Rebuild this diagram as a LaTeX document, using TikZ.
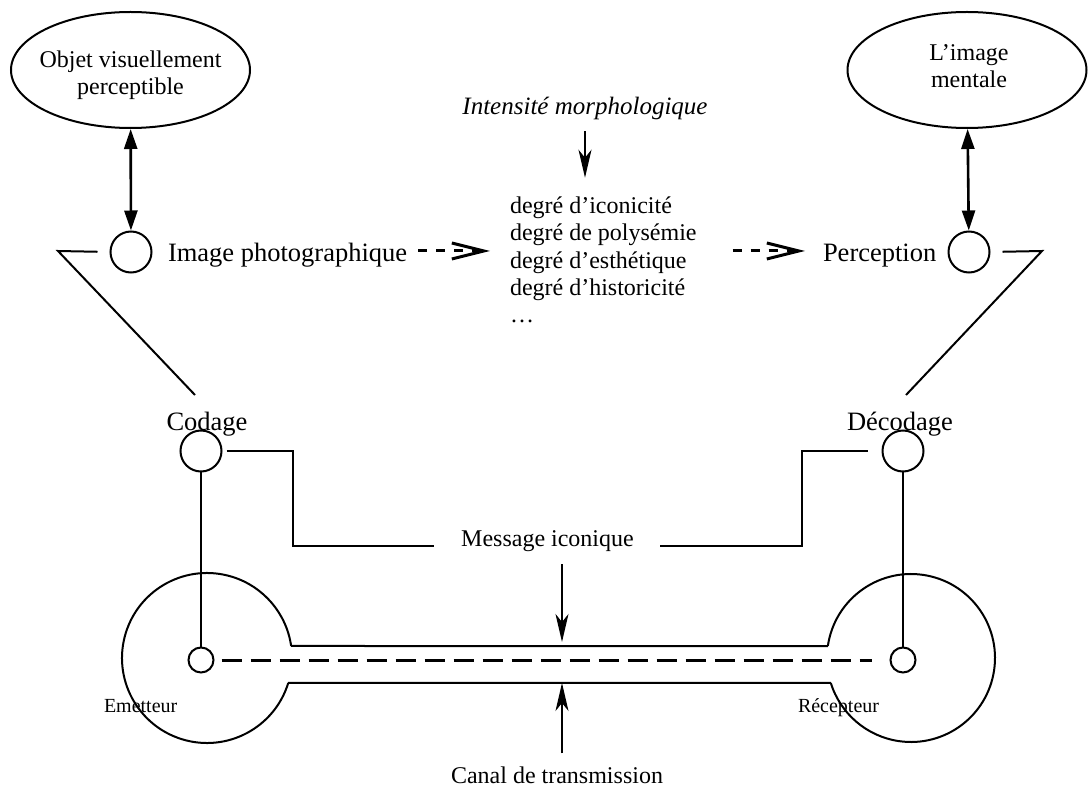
\documentclass[tikz,border=0pt]{standalone}
\usepackage{fontspec}
\setmainfont{Liberation Serif}
\usetikzlibrary{arrows.meta,shapes.geometric}

\begin{document}
\begin{tikzpicture}[x=0.5pt, y=-0.5pt, line width=1pt,
  texte/.style={inner sep=0pt, font=\fontsize{12}{13.3}\selectfont},
  grand/.style={inner sep=0pt, font=\fontsize{13.25}{15}\selectfont},
  petit/.style={inner sep=0pt, font=\fontsize{10}{12}\selectfont},
  bulle/.style={draw, ellipse, minimum width=119.5pt, minimum height=58pt, inner sep=0pt},
  rond/.style={draw, circle, fill=white, minimum size=20.5pt, inner sep=0pt},
  pastille/.style={draw, circle, minimum size=12.5pt, inner sep=0pt},
  allerretour/.style={{Triangle[length=10pt,width=6.5pt]}-{Triangle[length=10pt,width=6.5pt]}, line width=1.3pt},
  fleche/.style={-{Stealth[length=14pt,width=6.5pt,inset=4pt]}, line width=0.75pt},
  tirets/.style={-{Straight Barb[length=16pt,width=8pt,line width=1.5pt]}, line width=1.5pt, dash pattern=on 4.5pt off 4.5pt},
  ligneinterrompue/.style={line width=1.5pt, dash pattern=on 10pt off 4.5pt}]
  \useasboundingbox (0,0) rectangle (1088,791);

  % Objets du haut
  \node[bulle] (objet) at (130.5,70) {};
  \node[texte, align=center] (objettxt) at (130.5,75) {Objet visuellement\\perceptible};
  \node[bulle] (mentale) at (967,70) {};
  \node[texte, align=center] (mentaletxt) at (969,66) {L’image\\mentale};

  \node[rond] (image) at (131,252) {};
  \node[rond] (perc) at (969,252) {};
  \draw[allerretour] (objet) -- (image);
  \draw[allerretour] (mentale) -- (perc);

  \node[grand, anchor=base west] (photo) at (167,262) {Image photographique};
  \node[grand, anchor=base west] (perception) at (822,262) {Perception};

  % Intensite morphologique
  \node[texte, font=\fontsize{12.5}{14}\selectfont\itshape, anchor=base] (intensite) at (585,115) {Intensité morphologique};
  \node[texte, font=\fontsize{12}{13.7}\selectfont, align=left, anchor=base west] (degres) at (509,323)
    {degré d’iconicité\\degré de polysémie\\degré d’esthétique\\degré d’historicité\\…};
  \draw[fleche, shorten <=5pt, shorten >=9pt] (intensite.south) -- (intensite.south |- degres.north);

  % Fleches en tirets
  \coordinate (flecheA) at ([yshift=5.5pt]photo.base east);
  \coordinate (flecheB) at ([yshift=5.5pt]perception.base west);
  \draw[tirets, shorten <=5pt, shorten >=9.5pt] (flecheA) -- (flecheA -| degres.west);
  \draw[tirets, shorten <=17.5pt, shorten >=8.5pt] (flecheB -| degres.east) -- (flecheB);

  % Traits obliques
  \coordinate (coinG) at (58,251);
  \coordinate (finG) at (195,395);
  \coordinate (coinD) at (1042,251);
  \coordinate (finD) at (906,395);
  \draw[shorten <=6pt] (image.west) -- (coinG) -- (finG);
  \draw[shorten <=6pt] (perc.east) -- (coinD) -- (finD);

  % Codage / Decodage
  \node[grand, anchor=base] (codage) at (207,430) {Codage};
  \node[rond] (cod) at (201,451) {};
  \node[grand, anchor=base] (decodage) at (900,430) {Décodage};
  \node[rond] (dec) at (903,451) {};

  \node[texte, anchor=base] (message) at (547.5,546) {Message iconique};
  \draw[shorten <=2pt] (cod.east) -- ++(70.5,0) |- ([xshift=-13pt]message.base west);
  \draw[shorten <=7pt] (dec.west) -- ++(-80,0) |- ([xshift=12.5pt]message.base east);

  % Emetteur et recepteur
  \coordinate (E) at (207,658);
  \coordinate (R) at (911,658);
  \path (E) ++(-8.12:85) coordinate (Eh);
  \path (E) ++(17.1:85) coordinate (Eb);
  \path (R) ++(188.2:84) coordinate (Rh);
  \path (R) ++(162.7:84) coordinate (Rb);
  \node[petit, anchor=base west] (emetteur) at (103,712) {Emetteur};
  \node[petit, anchor=base west] (recepteur) at (797,712) {Récepteur};
  \draw (Eb) arc[start angle=17.1, end angle=351.9, radius=85];
  \draw (Rh) arc[start angle=188.2, end angle=522.7, radius=84];
  \draw (Eh) -- (Rh);
  \draw (Eb) -- (Rb);

  \node[pastille] (em) at (201,660) {};
  \node[pastille] (rec) at (903,660) {};
  \draw (cod) -- (em);
  \draw (dec) -- (rec);
  \draw[ligneinterrompue, shorten <=3.5pt, shorten >=8.75pt] (em) -- (rec);

  % Canal
  \node[texte, anchor=base] (canal) at (557,783) {Canal de transmission};
  \coordinate (axeM) at (562,600);
  \draw[fleche, shorten <=6pt, shorten >=2pt] (axeM |- message.south) -- (axeM |- Eh);
  \draw[fleche, shorten <=6pt] (axeM |- canal.north) -- (axeM |- Eb);
\end{tikzpicture}
\end{document}
